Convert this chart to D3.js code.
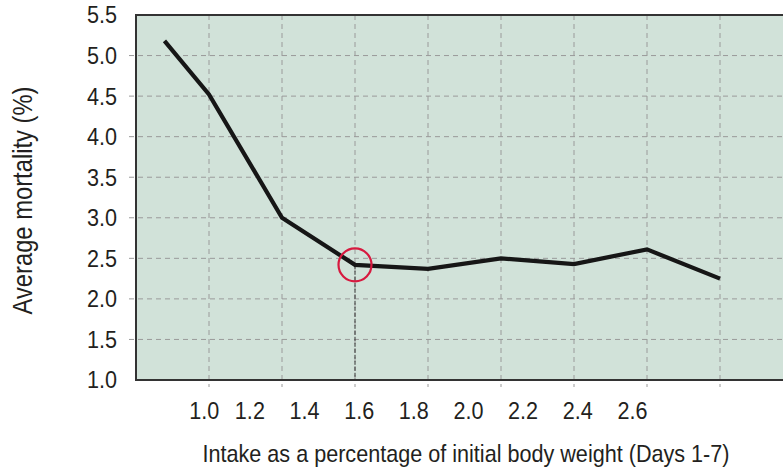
<!DOCTYPE html>
<html><head><meta charset="utf-8">
<script src="https://cdn.jsdelivr.net/npm/d3@7/dist/d3.min.js"></script>
<style>
body{margin:0;background:#fff;}
text{font-family:"Liberation Sans",Arial,sans-serif;fill:#231f20;}
</style></head>
<body><svg id="c" width="783" height="470"></svg>
<script>
// Data (x positions in grid steps along the axis; mortality in %)
const pointSteps = [0.39, 1, 2, 3, 4, 5, 6, 7, 8];
const mortality  = [5.18, 4.52, 3.0, 2.42, 2.37, 2.5, 2.43, 2.61, 2.25];
const xTickLabels = ["1.0","1.2","1.4","1.6","1.8","2.0","2.2","2.4","2.6"];
const xTickValues = [1.0, 1.2, 1.4, 1.6, 1.8, 2.0, 2.2, 2.4, 2.6];
const yTicks = [1.0, 1.5, 2.0, 2.5, 3.0, 3.5, 4.0, 4.5, 5.0, 5.5];
const gridSteps = [1, 2, 3, 4, 5, 6, 7, 8];
const highlightIndex = 3; // 1.6

const svg = d3.select("#c");
const L = 136, T = 15, B = 380, R = 783, step = 73;
const x = d3.scaleLinear().domain([0, 1]).range([L, L + step]);
const y = d3.scaleLinear().domain([1.0, 5.5]).range([B, T]);
// label scale (labels are set independently of the grid in the original)
const xl = d3.scaleLinear().domain([1.0, 1.2, 2.6]).range([x(0.935), x(1.56), x(6.8)]);

svg.append("rect").attr("x", L).attr("y", T).attr("width", R - L).attr("height", B - T).attr("fill", "#d1e2d9");

// horizontal grid
svg.append("g").selectAll("line").data(yTicks.filter(v => v > 1 && v < 5.5)).join("line")
  .attr("x1", L - 7).attr("x2", R).attr("y1", d => y(d)).attr("y2", d => y(d))
  .attr("stroke", "#9a9a9a").attr("stroke-width", 1).attr("stroke-dasharray", "5,4");
// vertical grid
svg.append("g").selectAll("line").data(gridSteps).join("line")
  .attr("x1", d => x(d)).attr("x2", d => x(d)).attr("y1", T).attr("y2", B + 7)
  .attr("stroke", "#9a9a9a").attr("stroke-width", 1).attr("stroke-dasharray", "5,4");

// axes borders
svg.append("line").attr("x1", L).attr("x2", R).attr("y1", T).attr("y2", T).attr("stroke", "#333").attr("stroke-width", 2);
svg.append("line").attr("x1", L).attr("x2", L).attr("y1", T - 1).attr("y2", B + 1).attr("stroke", "#333").attr("stroke-width", 2);
svg.append("line").attr("x1", L).attr("x2", R).attr("y1", B).attr("y2", B).attr("stroke", "#333").attr("stroke-width", 2);

// highlight drop line
const hx = x(pointSteps[highlightIndex]), hy = y(mortality[highlightIndex]);
svg.append("line").attr("x1", hx).attr("x2", hx).attr("y1", hy).attr("y2", B)
  .attr("stroke", "#333").attr("stroke-width", 1).attr("stroke-dasharray", "4,2");

// line
const pts = pointSteps.map((s, i) => [s, mortality[i]]);
svg.append("path").datum(pts)
  .attr("d", d3.line().x(d => x(d[0])).y(d => y(d[1])))
  .attr("fill", "none").attr("stroke", "#161616").attr("stroke-width", 4.2).attr("stroke-linejoin", "miter");

// highlight circle
svg.append("circle").attr("cx", hx).attr("cy", hy).attr("r", 16.5)
  .attr("fill", "none").attr("stroke", "#d7193f").attr("stroke-width", 2.2);

function label(g, tx, ty, rot, anchor, str, fs, sx) {
  g.append("text").attr("transform", `translate(${tx},${ty}) rotate(${rot}) scale(${sx},1)`)
    .attr("dy", "0.36em").attr("text-anchor", anchor).attr("font-size", fs).text(str);
}

// y tick labels
const gy = svg.append("g");
yTicks.forEach(d => label(gy, 117, y(d), 0, "end", d.toFixed(1), 23.5, 0.92));

// x tick labels
const gx = svg.append("g");
xTickValues.forEach((d, i) => label(gx, xl(d), 411, 0, "middle", xTickLabels[i], 23.5, 0.92));

// axis titles
label(svg, 466, 453.5, 0, "middle", "Intake as a percentage of initial body weight (Days 1-7)", 24, 0.9);
label(svg, 22.3, 200.5, -90, "middle", "Average mortality (%)", 27, 0.88);
</script></body></html>
